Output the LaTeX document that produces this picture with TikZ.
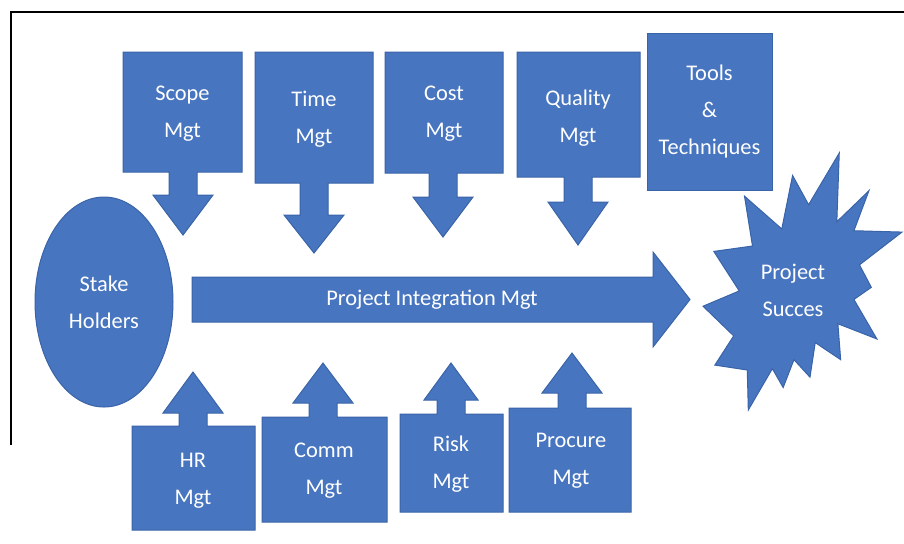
\documentclass[tikz,border=0pt]{standalone}
\usepackage{fontspec}
\setmainfont{Carlito}
\usetikzlibrary{shapes.geometric}
\definecolor{pmblue}{HTML}{4775BF}
\definecolor{pmedge}{HTML}{3A64A8}

\begin{document}
\begin{tikzpicture}[x=0.5pt, y=-0.5pt,
  blk/.style={fill=pmblue, draw=pmedge, line width=0.5pt},
  lbl/.style={text=white, align=center, inner sep=0pt,
    font=\fontsize{11.2}{18.5}\selectfont}]
   \useasboundingbox (0,0) rectangle (904,543);
   \draw[line width=1pt] (11,445) -- (11,12) -- (904,12);
   % top row
   \draw[blk] (123,52) -- (242,52) -- (242,172) -- (197,172) -- (197,195) -- (213,195)
     -- (183,235) -- (153,195) -- (169,195) -- (169,172) -- (123,172) -- cycle;
   \draw[blk] (255,52) -- (373,52) -- (373,183) -- (328,183) -- (328,215) -- (344,215)
     -- (314,253) -- (284,215) -- (300,215) -- (300,183) -- (255,183) -- cycle;
   \draw[blk] (385,52) -- (503,52) -- (503,173) -- (457,173) -- (457,197) -- (473,197)
     -- (443,237) -- (413,197) -- (429,197) -- (429,173) -- (385,173) -- cycle;
   \draw[blk] (517,52) -- (640,52) -- (640,177) -- (592,177) -- (592,202) -- (608,202)
     -- (578,245) -- (548,202) -- (564,202) -- (564,177) -- (517,177) -- cycle;
   \node (scope) [lbl] at (182.5,114) {Scope\\Mgt};
   \node (time) [lbl] at (314,119) {Time\\Mgt};
   \node (cost) [lbl] at (444,114) {Cost\\Mgt};
   \node (quality) [lbl] at (578,118) {Quality\\Mgt};
   \node (tools) [blk, lbl, minimum width=62.5pt, minimum height=78.5pt] at (709.5,111.5)
     {Tools\\\&\\Techniques};
   % bottom row
   \draw[blk] (132,530) -- (255,530) -- (255,426) -- (207,426) -- (207,413) -- (223,413)
     -- (193,372) -- (163,413) -- (179,413) -- (179,426) -- (132,426) -- cycle;
   \draw[blk] (262,522) -- (387,522) -- (387,417) -- (337,417) -- (337,403) -- (353,403)
     -- (323,363) -- (293,403) -- (309,403) -- (309,417) -- (262,417) -- cycle;
   \draw[blk] (400,512) -- (503,512) -- (503,414) -- (465,414) -- (465,400) -- (478,400)
     -- (451,363) -- (424,400) -- (437,400) -- (437,414) -- (400,414) -- cycle;
   \draw[blk] (509,512) -- (631,512) -- (631,408) -- (586,408) -- (586,393) -- (602,393)
     -- (572,353) -- (542,393) -- (558,393) -- (558,408) -- (509,408) -- cycle;
   \node (hr) [lbl] at (193,481) {HR\\Mgt};
   \node (comm) [lbl] at (324,471) {Comm\\Mgt};
   \node (risk) [lbl] at (451,464) {Risk\\Mgt};
   \node (procure) [lbl] at (571,461) {Procure\\Mgt};
   % middle
   \node (stake) [blk, lbl, ellipse, minimum width=69pt, minimum height=105pt] at (104,302)
     {Stake\\Holders};
   \draw[blk] (192,277) -- (653,277) -- (653,252) -- (690,299.5) -- (653,347) -- (653,322)
     -- (192,322) -- cycle;
   \node (integ) [lbl] at (432,300) {Project Integration Mgt};
   \begin{scope}[shift={(703,153)}, xscale=0.9213, yscale=1.1898]
     \draw[blk] (114.62,43.42) -- (147.90,0) -- (145.25,57.77) -- (180.07,31.72)
       -- (163.80,65.32) -- (216,66.45) -- (169.85,94.02) -- (182.70,112.90)
       -- (163.80,123.10) -- (188.77,156.32) -- (146.40,143.50) -- (149.42,173.70)
       -- (121.80,159.35) -- (116.12,188.42) -- (98.72,173.70) -- (87.00,197.12)
       -- (75.27,181.25) -- (49.17,216) -- (48.05,182.40) -- (12.85,178.25)
       -- (33.30,153.70) -- (0,128.77) -- (39.35,115.92) -- (11.72,82.70)
       -- (53.72,78.17) -- (45.02,36.25) -- (85.50,63.82) -- (97.22,18.87) -- cycle;
   \end{scope}
   \node (succes) [lbl] at (793,290) {Project\\Succes};
  \end{tikzpicture}
\end{document}
